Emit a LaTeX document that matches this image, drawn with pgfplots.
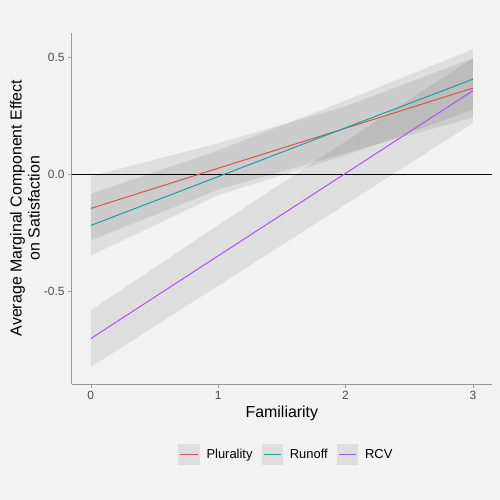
\documentclass[border=0pt]{standalone}
\usepackage{pgfplots}
\pgfplotsset{compat=1.18}
\usepackage{fontspec}
\setmainfont{Liberation Sans}
\definecolor{bg}{HTML}{F2F2F2}
\definecolor{cPlu}{HTML}{D9534F}
\definecolor{cRun}{HTML}{17A2A2}
\definecolor{cRCV}{HTML}{A855F7}
\definecolor{axgray}{HTML}{999999}
\definecolor{ticktxt}{HTML}{4D4D4D}
\definecolor{keybg}{HTML}{DEDEDE}
\begin{document}
\begin{tikzpicture}
\fill[bg] (-71.7bp,-116bp) rectangle (428.3bp,384bp);
\begin{axis}[
  at={(0,0)}, anchor=south west,
  scale only axis, width=420.3bp, height=351.3bp,
  xmin=-0.15, xmax=3.15, ymin=-0.8985, ymax=0.605,
  axis lines*=left,
  axis line style={axgray, line width=0.6bp},
  xtick={0,1,2,3}, xticklabels={0,1,2,3},
  ytick={-0.5,0,0.5}, yticklabels={-0.5,0.0,0.5},
  tick align=outside, major tick length=3.7bp,
  tick style={axgray, line width=0.6bp},
  ticklabel style={font=\fontsize{12}{14}\selectfont, text=ticktxt},
  /pgf/number format/assume math mode=true,
  legend columns=3,
  legend style={at={(0.5106,-0.2)}, anchor=center, draw=none, fill=none,
    font=\fontsize{13}{15}\selectfont,
    /tikz/every odd column/.append style={column sep=5bp},
    /tikz/every even column/.append style={column sep=7bp}},
  legend image code/.code={
    \path[draw=none, fill=keybg] (0bp,-10.4bp) rectangle (21.3bp,10.4bp);
    \draw[#1] (2bp,0bp) -- (19.3bp,0bp);
  },
  ribbon/.style={draw=none, fill=black!80, fill opacity=0.1, forget plot},
]
% confidence bands
\addplot[ribbon] coordinates {(0,-0.284) (1,-0.067) (2,0.090) (3,0.242)
  (3,0.496) (2,0.290) (1,0.132) (0,-0.010)};
\addplot[ribbon] coordinates {(0,-0.349) (1,-0.090) (2,0.080) (3,0.275)
  (3,0.534) (2,0.315) (1,0.101) (0,-0.084)};
\addplot[ribbon] coordinates {(0,-0.826) (1,-0.478) (2,-0.130) (3,0.218)
  (3,0.496) (2,0.140) (1,-0.218) (0,-0.583)};
% zero line
\addplot[black, line width=0.6bp, forget plot] coordinates {(-0.15,0) (3.15,0)};
% estimates
\addplot[cPlu, line width=1bp] coordinates {(0,-0.147) (1,0.025) (2,0.196) (3,0.368)};
\addplot[cRun, line width=1bp] coordinates {(0,-0.220) (1,-0.011) (2,0.198) (3,0.406)};
\addplot[cRCV, line width=1bp] coordinates {(0,-0.704) (1,-0.350) (2,0.003) (3,0.357)};
\legend{Plurality,Runoff,RCV}
\end{axis}
\node[anchor=base, font=\fontsize{16}{18}\selectfont] at (210.15bp,-33.7bp) {Familiarity};
\node[rotate=90, align=center, font=\fontsize{16}{18}\selectfont] at (-46.7bp,176bp)
  {Average Marginal Component Effect\\on Satisfaction};
\pgfresetboundingbox
\useasboundingbox (-71.7bp,-116bp) rectangle (428.3bp,384bp);
\end{tikzpicture}
\end{document}
